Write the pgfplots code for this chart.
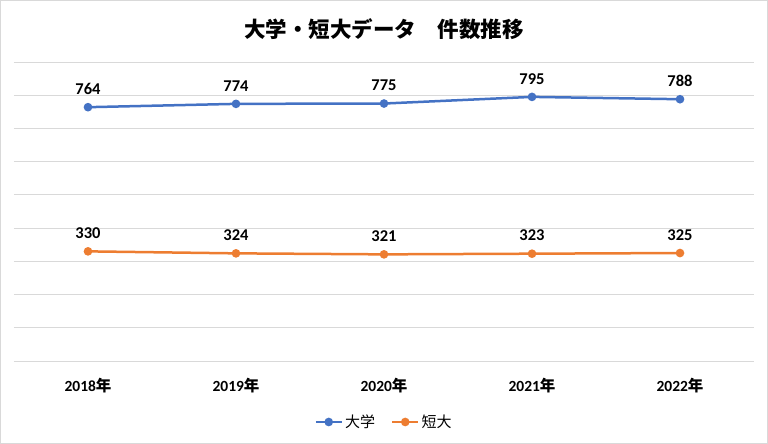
\documentclass[border=0pt]{standalone}
\usepackage{fontspec}
\setmainfont{Carlito}
\newfontfamily\cjk{Noto Sans CJK JP}
\usepackage{pgfplots}
\pgfplotsset{compat=1.18}
\definecolor{cblue}{RGB}{68,114,196}
\definecolor{corange}{RGB}{237,125,49}
\definecolor{cgrid}{RGB}{217,217,217}
\begin{document}
\begin{tikzpicture}
\useasboundingbox (0,0) rectangle (768pt,444pt);
\draw[cgrid,line width=1pt] (0.5pt,0.5pt) rectangle (767.5pt,443.5pt);
\node at (384pt,415pt) {\cjk\bfseries\fontsize{21.5}{25}\selectfont 大学・短大データ　件数推移};
\begin{axis}[
  at={(14pt,83pt)}, anchor=south west,
  scale only axis, width=740pt, height=299pt,
  xmin=-0.5, xmax=4.5, ymin=0, ymax=900,
  ytick={0,100,...,900}, yticklabels={},
  ymajorgrids, grid style={cgrid,line width=0.9pt},
  axis line style={draw=none},
  major tick length=0pt,
  /pgf/number format/assume math mode=true,
  xtick={0,1,2,3,4},
  xticklabels={2018{\cjk 年},2019{\cjk 年},2020{\cjk 年},2021{\cjk 年},2022{\cjk 年}},
  xticklabel style={font=\bfseries\fontsize{15.5}{18}\selectfont, yshift=-14pt},
  nodes near coords,
  every node near coord/.append style={font=\bfseries\fontsize{16.5}{19}\selectfont, anchor=south, yshift=8pt, text=black},
  legend style={at={(0.5,-0.204)}, anchor=center, draw=none, font=\cjk\fontsize{15}{18}\selectfont, /tikz/every even column/.append style={column sep=14pt}},
  legend columns=2,
  legend image code/.code={\draw[mark repeat=2,mark phase=2] plot coordinates {(0pt,0pt)(13pt,0pt)(26pt,0pt)};},
]
\addplot[cblue, line width=2.5pt, mark=*, mark size=3pt] coordinates {(0,764)(1,774)(2,775)(3,795)(4,788)};
\addlegendentry{大学}
\addplot[corange, line width=2.5pt, mark=*, mark size=3pt] coordinates {(0,330)(1,324)(2,321)(3,323)(4,325)};
\addlegendentry{短大}
\end{axis}
\end{tikzpicture}
\end{document}
